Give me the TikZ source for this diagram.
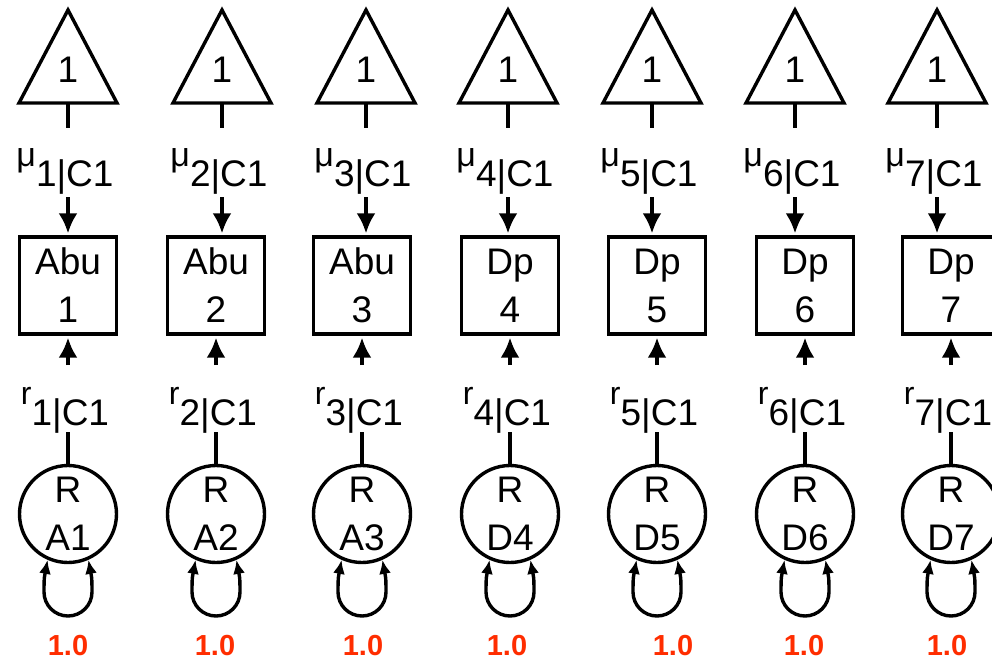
\documentclass[tikz,border=0pt]{standalone}
\usepackage{fontspec}
\setmainfont{Liberation Sans}
\usetikzlibrary{arrows.meta}
\definecolor{loadred}{RGB}{255,45,0}
\newcommand{\mainsize}{\fontsize{37}{48}\selectfont}
\newcommand{\musize}{\fontsize{34}{34}\selectfont}
\newcommand{\rsize}{\fontsize{32}{32}\selectfont}
\begin{document}
\begin{tikzpicture}[x=1pt,y=-1pt,
  wire/.style={line width=3.4pt},
  bigarrow/.style={wire, -{Latex[length=20pt,width=19pt]}, shorten >=2pt},
  loopline/.style={wire, {Latex[length=14pt,width=12pt]}-{Latex[length=14pt,width=12pt]}},
  plaintext/.style={inner sep=0pt, anchor=base, font=\mainsize},
  parlabel/.style={inner sep=0pt, anchor=base},
  obsbox/.style={draw, wire, minimum width=97pt, minimum height=97pt,
    inner sep=0pt, align=center, font=\mainsize},
  latent/.style={circle, draw, wire, minimum size=97pt, inner sep=0pt,
    align=center, font=\mainsize},
  loadtext/.style={text=loadred, inner sep=0pt, anchor=base,
    font=\bfseries\fontsize{29}{29}\selectfont}]
\useasboundingbox (0,0) rectangle (992,661);
\foreach \i/\xt/\xb/\xl/\kind/\code in {
    1/68/68/68/Abu/A1, 2/222/216/215/Abu/A2, 3/366/362/363/Abu/A3,
    4/508/510/507/Dp/D4, 5/652/657/673/Dp/D5, 6/795/805/804/Dp/D6,
    7/937/951/947/Dp/D7}{
  % constant (triangle) with its mean parameter
  \draw[wire, line join=miter] ({\xt-49},103) -- (\xt,10) -- ({\xt+49},103) -- cycle;
  \node[plaintext] (one\i) at (\xt,82) {1};
  \coordinate (tb\i) at (\xt,103);
  \coordinate (mt\i) at (\xt,128);
  \draw[wire] (tb\i) -- (mt\i);
  \node[parlabel] (mu\i) at ({\xt-3},166) {\musize μ\raisebox{-20pt}{\mainsize\i|C1}};
  \coordinate (mb\i) at (\xt,197);
  % observed indicator
  \node[obsbox] (ob\i) at (\xb,285.5) {\kind\\\i};
  \draw[bigarrow] (mb\i) -- (ob\i.north -| mb\i);
  % residual path
  \coordinate (rt\i) at (\xb,365);
  \draw[bigarrow] (rt\i) -- (ob\i.south -| rt\i);
  \node[parlabel] (rl\i) at ({\xb-3},404) {\rsize r\raisebox{-21pt}{\mainsize\i|C1}};
  \coordinate (rb\i) at (\xb,432);
  % residual variance with its self loop
  \node[latent] (lv\i) at (\xb,514) {R\\\code};
  \draw[wire] (rb\i) -- (lv\i.north);
  \coordinate (la\i) at ({\xb-24},592);
  \draw[loopline] (lv\i.-114) .. controls +(-3,16) and +(0,-16) .. (la\i)
    arc[start angle=180, end angle=0, radius=24]
    .. controls +(0,-16) and +(3,16) .. (lv\i.-66);
  \node[loadtext] (val\i) at (\xl,655) {1.0};
}
\end{tikzpicture}
\end{document}
